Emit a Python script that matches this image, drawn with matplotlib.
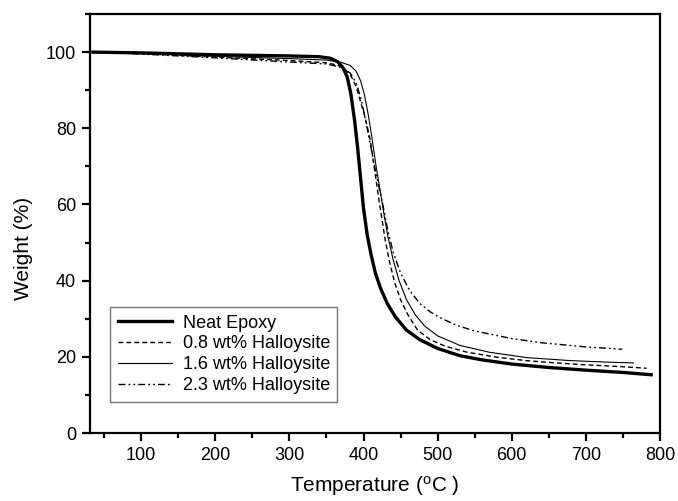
import numpy as np
import matplotlib
matplotlib.use("Agg")
import matplotlib.pyplot as plt
from matplotlib.ticker import MultipleLocator

plt.rcParams['font.family'] = ['Liberation Sans', 'DejaVu Sans']

# TGA curves
t_neat = [35, 100, 200, 300, 340, 355, 365, 372, 378, 383, 388, 392, 396,
          400, 405, 410, 416, 423, 432, 443, 458, 476, 500, 530, 560, 600,
          650, 700, 750, 788]
w_neat = [100, 99.8, 99.3, 99.0, 98.8, 98.4, 97.5, 96, 93.5, 89, 82, 75, 67,
          59, 52, 47, 42, 38, 34, 30.5, 27, 24.5, 22.2, 20.3, 19.2, 18.1,
          17.2, 16.5, 15.9, 15.3]

t_08 = [35, 100, 200, 300, 350, 365, 375, 383, 390, 396, 402, 409, 415, 421,
        425, 429, 435, 442, 450, 460, 473, 490, 510, 540, 580, 620, 660, 700,
        750, 782]
w_08 = [100, 99.6, 98.7, 97.8, 97.2, 96.6, 95.5, 93.8, 91, 87, 83, 77, 69,
        61, 56, 51, 45, 39.5, 35, 31, 27, 24.5, 22.8, 21.2, 19.9, 19, 18.4,
        17.9, 17.4, 17.0]

t_16 = [35, 100, 200, 300, 350, 370, 382, 390, 396, 401, 406, 411, 417, 423,
        428, 433, 440, 448, 458, 470, 483, 500, 530, 570, 620, 680, 730, 764]
w_16 = [100, 99.7, 98.9, 98.3, 97.9, 97.3, 96.5, 95, 92.5, 89, 84, 78, 70,
        63, 57, 51.5, 45.5, 40, 35, 31, 28, 25.5, 23, 21.2, 19.8, 19, 18.6,
        18.4]

t_23 = [35, 100, 200, 300, 350, 370, 382, 390, 397, 404, 410, 417, 426, 433,
        440, 450, 462, 476, 490, 503, 525, 550, 600, 640, 700, 749]
w_23 = [100, 99.5, 98.5, 97.4, 96.9, 96.0, 94.5, 92, 87.5, 81, 75, 68, 60,
        53, 47.5, 42, 37.5, 34, 31.8, 30.3, 28.3, 26.8, 24.8, 23.7, 22.6, 22.0]

labels = ['Neat Epoxy', '0.8 wt% Halloysite', '1.6 wt% Halloysite',
          '2.3 wt% Halloysite']

fig = plt.figure(figsize=(6.78, 5.01), dpi=100)
ax = fig.add_axes([0.1327, 0.1357, 0.8408, 0.8363])

ax.plot(t_neat, w_neat, color='k', lw=2.4, label=labels[0])
ax.plot(t_08, w_08, color='k', lw=1.0, ls=(0, (3.5, 2.2)), label=labels[1])
ax.plot(t_16, w_16, color='k', lw=0.8, ls='-', label=labels[2])
ax.plot(t_23, w_23, color='k', lw=1.0, ls=(0, (5, 2.2, 1.3, 2.2, 1.3, 2.2)),
        label=labels[3])

ax.set_xlim(31, 800)
ax.set_ylim(0, 110)
ax.xaxis.set_minor_locator(MultipleLocator(50))
ax.yaxis.set_major_locator(MultipleLocator(20))
ax.yaxis.set_minor_locator(MultipleLocator(10))
ax.set_xticks(np.arange(100, 801, 100))

for s in ax.spines.values():
    s.set_linewidth(1.6)
ax.tick_params(which='major', direction='out', length=6, width=1.6,
               labelsize=13, pad=4)
ax.tick_params(which='minor', direction='out', length=3.5, width=1.6)

ax.set_xlabel(r'Temperature ($\mathregular{^{o}}$C )', fontsize=15)
ax.set_ylabel('Weight (%)', fontsize=15)
ax.xaxis.set_label_coords(0.5, -0.098)
ax.yaxis.set_label_coords(-0.1, 0.44)

leg = ax.legend(loc='lower left', bbox_to_anchor=(0.035, 0.074),
                borderaxespad=0, fancybox=False, fontsize=13,
                handlelength=3.0, labelspacing=0.22, borderpad=0.42,
                handletextpad=0.6)
leg.get_frame().set_edgecolor('#555555')
leg.get_frame().set_linewidth(1.0)

fig.savefig('out.png', dpi=100)
